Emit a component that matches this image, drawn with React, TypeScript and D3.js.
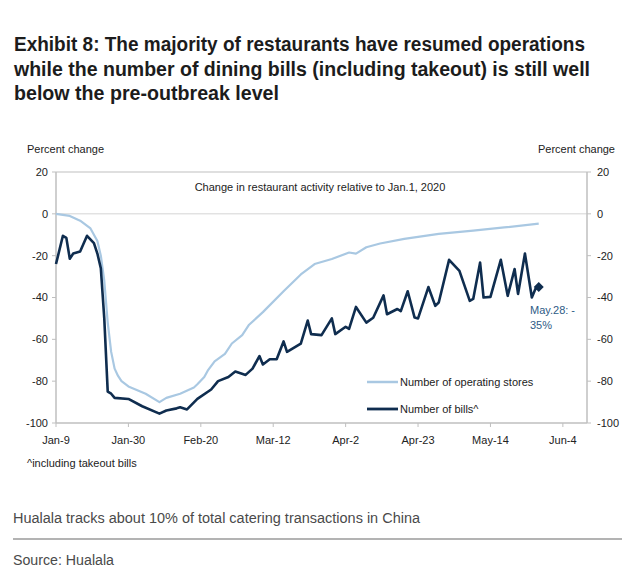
import * as d3 from "d3";

// values, percent change vs Jan.1, 2020
const billsPoints: [string, number][] = [
  ["2020-01-09", -24], ["2020-01-11", -10.5], ["2020-01-12", -11.5], ["2020-01-13", -21.5],
  ["2020-01-14", -19], ["2020-01-16", -18], ["2020-01-18", -10.5], ["2020-01-20", -14],
  ["2020-01-21", -19], ["2020-01-22", -26], ["2020-01-23", -50], ["2020-01-24", -85],
  ["2020-01-25", -86], ["2020-01-26", -88], ["2020-01-30", -88.5], ["2020-02-03", -92],
  ["2020-02-08", -95.5], ["2020-02-10", -94], ["2020-02-13", -93], ["2020-02-14", -92.5],
  ["2020-02-16", -93.5], ["2020-02-19", -88.5], ["2020-02-23", -84], ["2020-02-25", -80],
  ["2020-02-28", -78], ["2020-03-01", -75.4], ["2020-03-04", -77], ["2020-03-06", -74],
  ["2020-03-08", -68], ["2020-03-09", -72], ["2020-03-11", -69.5], ["2020-03-13", -69.5],
  ["2020-03-15", -61], ["2020-03-16", -66], ["2020-03-20", -62], ["2020-03-22", -51],
  ["2020-03-23", -57.5], ["2020-03-26", -58], ["2020-03-29", -50], ["2020-03-30", -57.5],
  ["2020-04-02", -54], ["2020-04-03", -55], ["2020-04-05", -44.5], ["2020-04-08", -52],
  ["2020-04-10", -49.7], ["2020-04-13", -39], ["2020-04-14", -48], ["2020-04-17", -45.5],
  ["2020-04-18", -46.5], ["2020-04-20", -37], ["2020-04-22", -49.6], ["2020-04-23", -50],
  ["2020-04-26", -35], ["2020-04-28", -44], ["2020-04-29", -42.4], ["2020-05-02", -22],
  ["2020-05-05", -27.3], ["2020-05-08", -41.6], ["2020-05-09", -40.7], ["2020-05-11", -23.3],
  ["2020-05-12", -40], ["2020-05-14", -39.7], ["2020-05-17", -22], ["2020-05-19", -39.2],
  ["2020-05-21", -26.4], ["2020-05-22", -38.3], ["2020-05-24", -19], ["2020-05-26", -40],
  ["2020-05-27", -36], ["2020-05-28", -35],
];

const storesPoints: [string, number][] = [
  ["2020-01-09", 0], ["2020-01-13", -1], ["2020-01-16", -3.3], ["2020-01-19", -7],
  ["2020-01-21", -13], ["2020-01-22", -20], ["2020-01-23", -32], ["2020-01-24", -52],
  ["2020-01-25", -66], ["2020-01-26", -74], ["2020-01-27", -77.5], ["2020-01-28", -80],
  ["2020-01-30", -82.5], ["2020-02-04", -86], ["2020-02-08", -90], ["2020-02-10", -88],
  ["2020-02-14", -86], ["2020-02-18", -83], ["2020-02-19", -81.5], ["2020-02-21", -78],
  ["2020-02-22", -75], ["2020-02-24", -70.5], ["2020-02-27", -67], ["2020-02-29", -62],
  ["2020-03-03", -58], ["2020-03-05", -53], ["2020-03-09", -47], ["2020-03-15", -37],
  ["2020-03-20", -29], ["2020-03-24", -24], ["2020-03-29", -21.6], ["2020-04-03", -18.5],
  ["2020-04-05", -19], ["2020-04-08", -16], ["2020-04-12", -14.2], ["2020-04-19", -12],
  ["2020-04-29", -9.6], ["2020-05-09", -8], ["2020-05-18", -6.5], ["2020-05-28", -4.7],
];

const xTicks = ["2020-01-09", "2020-01-30", "2020-02-20", "2020-03-12", "2020-04-02", "2020-04-23", "2020-05-14", "2020-06-04"];
const yTicks = [20, 0, -20, -40, -60, -80, -100];

const titleLines = [
  "Exhibit 8: The majority of restaurants have resumed operations",
  "while the number of dining bills (including takeout) is still well",
  "below the pre-outbreak level",
];
const titleWidths = [571, 576, 265];

const parse = d3.timeParse("%Y-%m-%d");
const fmt = d3.timeFormat("%b-%-d");

const W = 634;
const H = 576;
const left = 56;
const right = 587;
const top = 172;
const bottom = 423;

const BILLS = "#0f2d4f";
const STORES = "#a9c8e2";
const AXIS = "#bfbfbf";
const chartFont = "'Liberation Sans', Arial, Helvetica, sans-serif";
const narrowFont = "'Liberation Sans Narrow', 'Liberation Sans', Arial, sans-serif";

export default function App() {
  const x = d3
    .scaleTime()
    .domain([parse("2020-01-09")!, parse("2020-06-11")!])
    .range([left, right]);
  const y = d3.scaleLinear().domain([-100, 20]).range([bottom, top]);

  const line = d3
    .line<[string, number]>()
    .x((d) => x(parse(d[0])!))
    .y((d) => y(d[1]));

  const last = billsPoints[billsPoints.length - 1];
  const lx = x(parse(last[0])!);
  const ly = y(last[1]);

  return (
    <svg
      width={W}
      height={H}
      style={{ position: "absolute", left: 0, top: 0, background: "#fff" }}
    >
      {titleLines.map((t, i) => (
        <text
          key={t}
          x={14}
          y={51 + i * 24.5}
          fontFamily={narrowFont}
          fontWeight="bold"
          fontSize={20}
          fill="#1c1c1c"
          textLength={titleWidths[i]}
          lengthAdjust="spacingAndGlyphs"
        >
          {t}
        </text>
      ))}

      <g fontFamily={chartFont} fontSize={11} fill="#222">
        <text x={27} y={153}>Percent change</text>
        <text x={615} y={153} textAnchor="end">Percent change</text>
        <text x={320} y={191} textAnchor="middle">
          Change in restaurant activity relative to Jan.1, 2020
        </text>

        {/* frame */}
        <line x1={left} x2={right} y1={top} y2={top} stroke={AXIS} />
        <line x1={left} x2={right} y1={y(0)} y2={y(0)} stroke="#d4d4d4" />
        <line x1={left} x2={right} y1={bottom} y2={bottom} stroke={AXIS} strokeWidth={1.5} />
        <line x1={left} x2={left} y1={top} y2={bottom} stroke={AXIS} strokeWidth={1.5} />
        <line x1={right} x2={right} y1={top} y2={bottom} stroke={AXIS} strokeWidth={1.5} />

        {yTicks.map((v) => (
          <g key={v}>
            <line x1={left - 4} x2={left} y1={y(v)} y2={y(v)} stroke={AXIS} />
            <line x1={right} x2={right + 4} y1={y(v)} y2={y(v)} stroke={AXIS} />
            <text x={48} y={y(v)} dy="0.35em" textAnchor="end">{v}</text>
            <text x={597} y={y(v)} dy="0.35em">{v}</text>
          </g>
        ))}

        {xTicks.map((d) => {
          const px = x(parse(d)!);
          return (
            <g key={d}>
              <line x1={px} x2={px} y1={bottom} y2={bottom + 4} stroke={AXIS} />
              <text x={px} y={444} textAnchor="middle">{fmt(parse(d)!)}</text>
            </g>
          );
        })}

        <text x={27} y={467}>^including takeout bills</text>

        <path d={line(storesPoints)!} fill="none" stroke={STORES} strokeWidth={2.2} strokeLinejoin="round" />
        <path d={line(billsPoints)!} fill="none" stroke={BILLS} strokeWidth={2.6} strokeLinejoin="round" />
        <path
          d={`M${lx},${ly - 5}L${lx + 5},${ly}L${lx},${ly + 5}L${lx - 5},${ly}Z`}
          fill={BILLS}
        />
        <text x={530} y={314} fill="#2e5b86">May.28: -</text>
        <text x={530} y={329} fill="#2e5b86">35%</text>

        {/* legend */}
        <line x1={367} x2={398} y1={382} y2={382} stroke={STORES} strokeWidth={2.5} />
        <text x={400} y={382} dy="0.35em">Number of operating stores</text>
        <line x1={367} x2={398} y1={409} y2={409} stroke={BILLS} strokeWidth={2.8} />
        <text x={400} y={409} dy="0.35em">Number of bills^</text>
      </g>

      <g fontFamily={narrowFont} fontSize={14} fill="#4a4a4a">
        <text x={13} y={523} textLength={407} lengthAdjust="spacingAndGlyphs">
          Hualala tracks about 10% of total catering transactions in China
        </text>
        <line x1={13} x2={622} y1={539} y2={539} stroke="#9a9a9a" strokeWidth={1.5} />
        <text x={13} y={565} textLength={101} lengthAdjust="spacingAndGlyphs">
          Source: Hualala
        </text>
      </g>
    </svg>
  );
}
